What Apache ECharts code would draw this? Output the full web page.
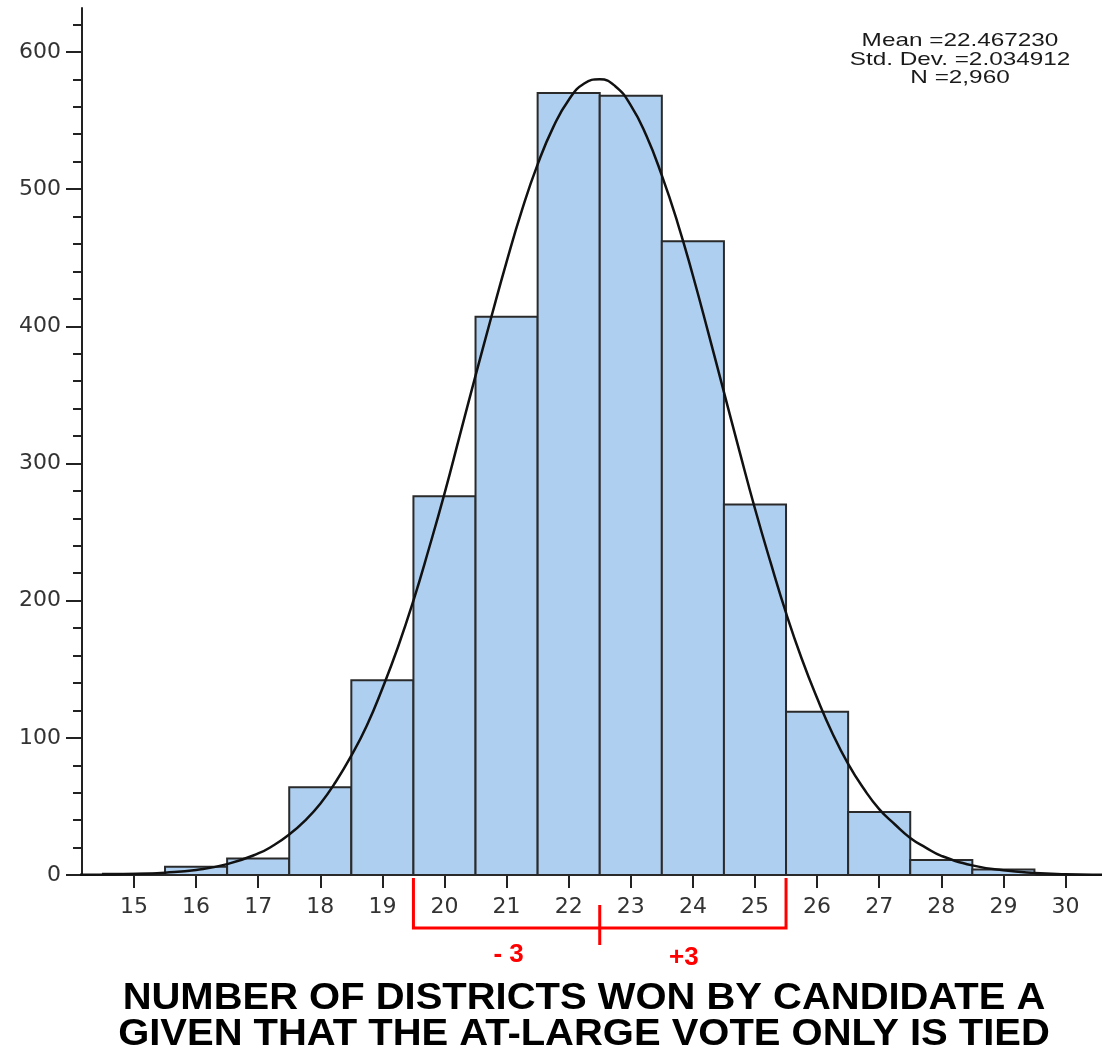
<!DOCTYPE html>
<html>
<head>
<meta charset="utf-8">
<script src="https://cdn.jsdelivr.net/npm/echarts@6/dist/echarts.min.js"></script>
<style>
html,body{margin:0;padding:0;background:#ffffff;}
#chart{width:1102px;height:1049px;}
</style>
</head>
<body>
<div id="chart"></div>
<script>
// ---- data ----
const binCenters = [15,16,17,18,19,20,21,22,23,24,25,26,27,28,29,30];
const binCounts  = [1,6,12,64,142,276,407,570,568,462,270,119,46,11,4,0];
const binWidth = 1;

// fitted normal curve (half-unit steps in the tails, quarter-unit steps in the middle)
const curveX = [14.0,14.5,15.0,15.5,16.0,16.5,17.0,17.25,17.5,17.75,18.0,18.25,18.5,18.75,19.0,19.25,19.5,19.75,20.0,20.25,20.5,20.75,21.0,21.25,21.5,21.75,22.0,22.25,22.5,22.75,23.0,23.25,23.5,23.75,24.0,24.25,24.5,24.75,25.0,25.25,25.5,25.75,26.0,26.25,26.5,26.75,27.0,27.25,27.5,27.75,28.0,28.5,29.0,29.5,30.0,30.5,31.0];
const curveY = [0.1,0.3,0.7,1.7,3.7,7.9,15.7,21.7,29.5,39.5,52,68,87,109,136,166,200,238,278,321,364,406,447,485,518,545,565,577,580,575,561,539,510,476,437,395,352,309,267,228,191,158,129,103,81,63,48,37,27,20,14,7,3.4,1.5,0.6,0.2,0.1];

const xTickValues = [15,16,17,18,19,20,21,22,23,24,25,26,27,28,29,30];
const yTickValues = [0,100,200,300,400,500,600];
const yMinorTickValues = [20,40,60,80,120,140,160,180,220,240,260,280,320,340,360,380,420,440,460,480,520,540,560,580,620];

const xRange = [14.163, 30.588];
const yRange = [0, 632];

const statsLines = ['Mean =22.467230', 'Std. Dev. =2.034912', 'N =2,960'];
const titleLines = ['NUMBER OF DISTRICTS WON BY CANDIDATE A', 'GIVEN THAT THE AT-LARGE VOTE ONLY IS TIED'];

const bracketEnds = [19.5, 25.5];
const bracketMid = 22.5;
const bracketLabels = ['- 3', '+3'];

// ---- chart ----
const chart = echarts.init(document.getElementById('chart'), null, {renderer: 'canvas'});

const axisColor = '#222222';
const labelFont = 'DejaVu Sans';

const option = {
  animation: false,
  backgroundColor: '#ffffff',
  grid: {left: 82, right: 0, top: 8, bottom: 174, containLabel: false},
  xAxis: [
    {
      type: 'value', position: 'bottom', min: xRange[0], max: xRange[1],
      axisLine: {show: true, lineStyle: {color: axisColor, width: 2}},
      axisTick: {show: true, length: 13, customValues: xTickValues, lineStyle: {color: axisColor, width: 2}},
      axisLabel: {customValues: xTickValues, margin: 21, color: '#333333', fontSize: 22, fontFamily: labelFont},
      splitLine: {show: false}
    },
    {
      type: 'value', position: 'top', min: xRange[0], max: xRange[1],
      axisLine: {show: true, lineStyle: {color: axisColor, width: 2}},
      axisTick: {show: false}, axisLabel: {show: false}, splitLine: {show: false}
    }
  ],
  yAxis: [
    {
      type: 'value', position: 'left', min: yRange[0], max: yRange[1],
      axisLine: {show: true, lineStyle: {color: axisColor, width: 2}},
      axisTick: {show: true, length: 16, customValues: yTickValues, lineStyle: {color: axisColor, width: 2}},
      axisLabel: {customValues: yTickValues, margin: 21, color: '#333333', fontSize: 22, fontFamily: labelFont},
      splitLine: {show: false}
    },
    {
      type: 'value', position: 'left', min: yRange[0], max: yRange[1],
      axisLine: {show: false},
      axisTick: {show: true, length: 9, customValues: yMinorTickValues, lineStyle: {color: axisColor, width: 2}},
      axisLabel: {show: false}, splitLine: {show: false}
    }
  ],
  series: [
    {
      type: 'custom',
      xAxisIndex: 0, yAxisIndex: 0,
      z: 2,
      data: binCenters.map((c, i) => [c, binCounts[i]]),
      renderItem: function (params, api) {
        const c = api.value(0), v = api.value(1);
        if (!v) return null;
        const p0 = api.coord([c - binWidth / 2, v]);
        const p1 = api.coord([c + binWidth / 2, 0]);
        return {
          type: 'rect',
          shape: {x: p0[0], y: p0[1], width: p1[0] - p0[0], height: p1[1] - p0[1]},
          style: {fill: '#aecff0', stroke: '#2a2a2a', lineWidth: 2}
        };
      }
    },
    {
      type: 'line',
      xAxisIndex: 0, yAxisIndex: 0,
      z: 3,
      data: curveX.map((x, i) => [x, curveY[i]]),
      smooth: 0.5,
      showSymbol: false,
      symbol: 'none',
      lineStyle: {color: '#111111', width: 2.5}
    },
    {
      type: 'custom',
      xAxisIndex: 0, yAxisIndex: 0,
      z: 4,
      clip: false,
      data: [[bracketEnds[0], bracketEnds[1], bracketMid]],
      renderItem: function (params, api) {
        const a = api.coord([api.value(0), 0]);
        const b = api.coord([api.value(1), 0]);
        const m = api.coord([api.value(2), 0]);
        const y0 = a[1];
        const red = '#ff0000';
        const leftMid = (a[0] + m[0]) / 2;
        const rightMid = (m[0] + b[0]) / 2;
        return {
          type: 'group',
          children: [
            {type: 'polyline', shape: {points: [[a[0], y0 + 3], [a[0], y0 + 53], [b[0], y0 + 53], [b[0], y0 + 3]]},
             style: {stroke: red, lineWidth: 3, fill: null}},
            {type: 'line', shape: {x1: m[0], y1: y0 + 30, x2: m[0], y2: y0 + 70},
             style: {stroke: red, lineWidth: 3}},
            {type: 'text', x: leftMid + 2, y: y0 + 80,
             style: {text: bracketLabels[0], font: 'bold 26px "Liberation Sans"', fill: red, align: 'center', verticalAlign: 'middle'}},
            {type: 'text', x: rightMid - 9, y: y0 + 83,
             style: {text: bracketLabels[1], font: 'bold 26px "Liberation Sans"', fill: red, align: 'center', verticalAlign: 'middle'}}
          ]
        };
      }
    }
  ],
  graphic: [
    {
      type: 'text', x: 960, y: 32, scaleX: 1.28,
      style: {text: statsLines.join('\n'), font: '19px "Liberation Sans"', lineHeight: 18.5, fill: '#1a1a1a', align: 'center', verticalAlign: 'top'}
    },
    {
      type: 'text', x: 584, y: 981, scaleX: 1.11,
      style: {text: titleLines.join('\n'), font: 'bold 36px "Liberation Sans"', lineHeight: 36, fill: '#000000', align: 'center', verticalAlign: 'top'}
    }
  ]
};

chart.setOption(option);
</script>
</body>
</html>
